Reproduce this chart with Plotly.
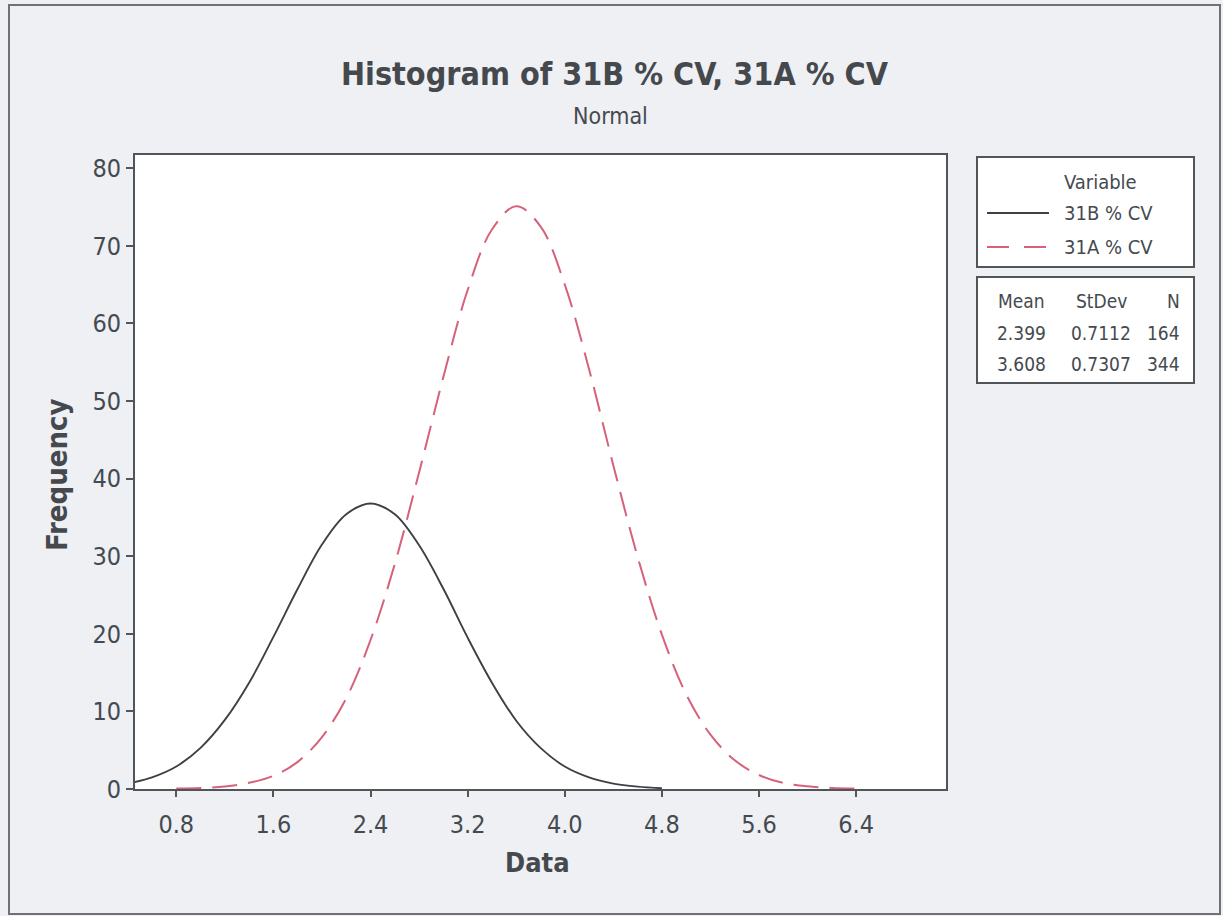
import plotly.graph_objects as go

# ---- data ----
series_names = ["31B % CV", "31A % CV"]
means = [2.399, 3.608]
stdevs = [0.7112, 0.7307]
counts = [164, 344]

x_b = [0.4, 0.6, 0.8, 1.0, 1.2, 1.4, 1.6, 1.8, 2.0, 2.2, 2.4, 2.6, 2.8, 3.0, 3.2,
       3.4, 3.6, 3.8, 4.0, 4.2, 4.4, 4.6, 4.8]
y_b = [0.7, 1.5, 2.9, 5.3, 8.9, 13.7, 19.6, 25.8, 31.5, 35.4, 36.8, 35.4, 31.4, 25.8, 19.5,
       13.7, 8.8, 5.3, 2.9, 1.5, 0.7, 0.3, 0.1]

x_a = [0.8, 1.0, 1.2, 1.4, 1.6, 1.8, 2.0, 2.2, 2.4, 2.6, 2.8, 3.0, 3.2, 3.4, 3.6,
       3.8, 4.0, 4.2, 4.4, 4.6, 4.8, 5.0, 5.2, 5.4, 5.6, 5.8, 6.0, 6.2, 6.4]
y_a = [0.05, 0.13, 0.33, 0.8, 1.7, 3.5, 6.7, 11.7, 19.2, 29.0, 40.8, 53.1, 64.3, 72.1, 75.1,
       72.5, 65.0, 54.1, 41.7, 29.9, 19.9, 12.2, 7.0, 3.7, 1.8, 0.8, 0.35, 0.14, 0.05]

x_ticks = [0.8, 1.6, 2.4, 3.2, 4.0, 4.8, 5.6, 6.4]
y_ticks = [0, 10, 20, 30, 40, 50, 60, 70, 80]

# ---- style ----
W, H = 1223, 916
L, R, T, B = 135, 946, 155, 789
BLACK = "#3c4146"
RED = "#d6627a"
TXT = "#454a50"
FONT = "Tahoma, 'DejaVu Sans Condensed', 'DejaVu Sans', sans-serif"
BOLD = "'DejaVu Sans Condensed', 'Liberation Sans Narrow', 'DejaVu Sans', sans-serif"
DASH = "25px,11px"


def px(x):
    return (x - L) / (R - L)


def py(y):
    return (B - y) / (B - T)


fig = go.Figure()
fig.add_trace(go.Scatter(x=x_b, y=y_b, mode="lines", name=series_names[0],
                         line=dict(color=BLACK, width=1.9, shape="spline"),
                         showlegend=False))
fig.add_trace(go.Scatter(x=x_a, y=y_a, mode="lines", name=series_names[1],
                         line=dict(color=RED, width=2, shape="spline", dash=DASH),
                         showlegend=False))

shapes = []
annotations = []

# outer frame
shapes.append(dict(type="rect", xref="paper", yref="paper",
                   x0=px(9), x1=px(1220), y0=py(5), y1=py(914),
                   line=dict(color="#6e7276", width=2), layer="below"))

# legend boxes
shapes.append(dict(type="rect", xref="paper", yref="paper",
                   x0=px(977), x1=px(1194), y0=py(157), y1=py(267),
                   line=dict(color="#50555a", width=2), fillcolor="white"))
shapes.append(dict(type="rect", xref="paper", yref="paper",
                   x0=px(977), x1=px(1194), y0=py(277), y1=py(383),
                   line=dict(color="#50555a", width=2), fillcolor="white"))

# legend sample lines
shapes.append(dict(type="line", xref="paper", yref="paper",
                   x0=px(987), x1=px(1049), y0=py(213), y1=py(213),
                   line=dict(color=BLACK, width=1.9)))
shapes.append(dict(type="line", xref="paper", yref="paper",
                   x0=px(987), x1=px(1046), y0=py(247), y1=py(247),
                   line=dict(color=RED, width=2, dash="22px,15px")))


def ann(text, x, y, size, bold=False, xanchor="center", color=TXT, angle=0):
    annotations.append(dict(text=("<b>%s</b>" % text) if bold else text,
                            xref="paper", yref="paper", x=px(x), y=py(y),
                            xanchor=xanchor, yanchor="middle", showarrow=False,
                            textangle=angle,
                            font=dict(family=BOLD if bold else FONT, size=size, color=color)))


ann("Histogram of " + ", ".join(series_names), 615, 74, 32, bold=True, color="#45494e")
ann("Normal", 610, 116, 23)
ann("Frequency", 57, 475, 29, bold=True, angle=-90, color="#45494e")
ann("Data", 537, 862, 27, bold=True, color="#45494e")

ann("Variable", 1100, 182, 20)
ann(series_names[0], 1062, 213, 20, xanchor="left")
ann(series_names[1], 1062, 247, 20, xanchor="left")

ann("Mean", 1022, 301, 19)
ann("StDev", 1101, 301, 19)
ann("N", 1182, 301, 19, xanchor="right")
for i, yy in enumerate([333, 364]):
    ann("%.3f" % means[i], 1022, yy, 19)
    ann("%.4f" % stdevs[i], 1101, yy, 19)
    ann("%d" % counts[i], 1182, yy, 19, xanchor="right")

fig.update_layout(
    width=W, height=H,
    margin=dict(l=L, r=W - R, t=T, b=H - B, pad=0),
    paper_bgcolor="#eef0f3",
    plot_bgcolor="white",
    shapes=shapes,
    annotations=annotations,
    showlegend=False,
)
fig.update_xaxes(range=[0.46, 7.14], tickvals=x_ticks,
                 ticktext=["%.1f" % v for v in x_ticks],
                 ticks="outside", ticklen=6, tickwidth=1.5, tickcolor="#555",
                 ticklabelstandoff=6,
                 showline=True, linecolor="#50555a", linewidth=2, mirror=True,
                 showgrid=False, zeroline=False,
                 tickfont=dict(family=FONT, size=25, color=TXT))
fig.update_yaxes(range=[0, 81.7], tickvals=y_ticks,
                 ticks="outside", ticklen=7, tickwidth=1.5, tickcolor="#555",
                 ticklabelstandoff=0,
                 showline=True, linecolor="#50555a", linewidth=2, mirror=True,
                 showgrid=False, zeroline=False,
                 tickfont=dict(family=FONT, size=25, color=TXT))

fig.write_html("out.html")
